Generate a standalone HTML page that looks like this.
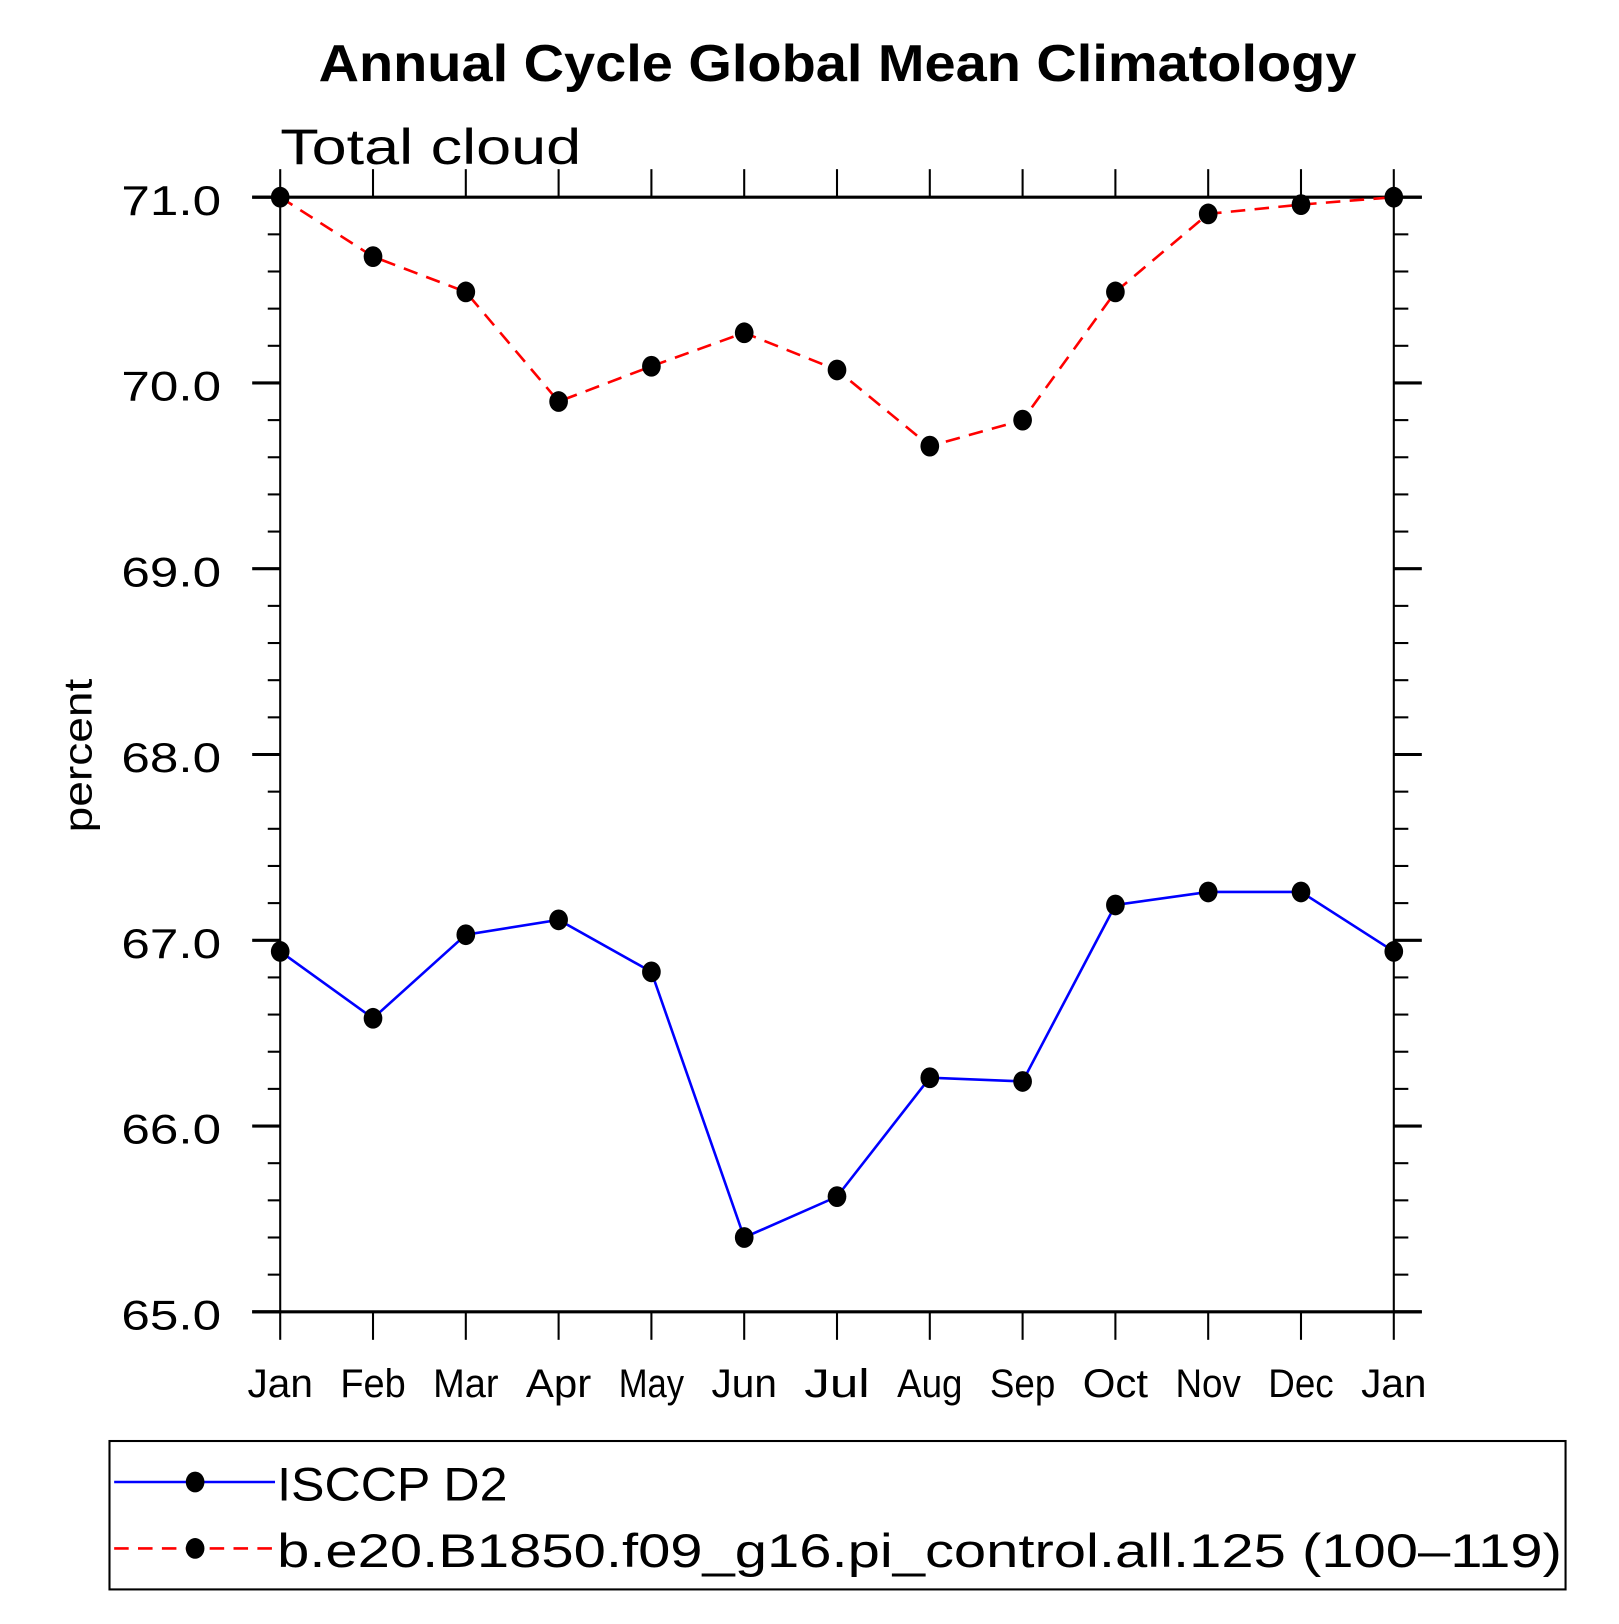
<!DOCTYPE html>
<html><head><meta charset="utf-8"><style>
html,body{margin:0;padding:0;background:#fff;}
svg text{font-family:"Liberation Sans",sans-serif;}
</style></head><body>
<svg id="chart" width="1619" height="1619" viewBox="0 0 1560 1560" xmlns="http://www.w3.org/2000/svg">
<text x="807" y="78" text-anchor="middle" font-size="50" font-weight="bold" textLength="1000" lengthAdjust="spacingAndGlyphs">Annual Cycle Global Mean Climatology</text>
<text x="270" y="158" font-size="48" textLength="290" lengthAdjust="spacingAndGlyphs">Total cloud</text>
<text transform="translate(88,728) rotate(-90)" text-anchor="middle" font-size="38" textLength="148" lengthAdjust="spacingAndGlyphs">percent</text>
<g id="axes"></g>
<g id="series"></g>
<g>
<rect x="105.5" y="1388.5" width="1403" height="143" fill="none" stroke="#000" stroke-width="2"/>
<g>
<line x1="110" y1="1428" x2="265" y2="1428" stroke="#0000ff" stroke-width="2.5"/>
<ellipse cx="188" cy="1428" rx="9" ry="10" fill="#000"/>
<text x="267" y="1446" font-size="46" textLength="222" lengthAdjust="spacingAndGlyphs">ISCCP D2</text>
</g>
<g>
<line x1="110" y1="1492" x2="265" y2="1492" stroke="#ff0000" stroke-width="2.5" stroke-dasharray="14,9"/>
<ellipse cx="188" cy="1492" rx="9" ry="10" fill="#000"/>
<text x="267" y="1510" font-size="46" textLength="1238" lengthAdjust="spacingAndGlyphs">b.e20.B1850.f09_g16.pi_control.all.125 (100–119)</text>
</g>
</g>
</svg>
<script>
const months = ["Jan","Feb","Mar","Apr","May","Jun","Jul","Aug","Sep","Oct","Nov","Dec","Jan"];
const isccpValues = [66.94,66.58,67.03,67.11,66.83,65.40,65.62,66.26,66.24,67.19,67.26,67.26,66.94];
const modelValues = [71.00,70.68,70.49,69.90,70.09,70.27,70.07,69.66,69.80,70.49,70.91,70.96,71.00];
const yTickLabels = ["65.0","66.0","67.0","68.0","69.0","70.0","71.0"];
const yMin = 65, yMax = 71;

const NS="http://www.w3.org/2000/svg";
const L=270,R=1343,T=190,B=1264;
const xs=i=>L+(R-L)*i/(months.length-1);
const ys=v=>B-(B-T)*(v-yMin)/(yMax-yMin);
function mk(tag,attrs,parent){const e=document.createElementNS(NS,tag);for(const k in attrs)e.setAttribute(k,attrs[k]);parent.appendChild(e);return e;}
const axes=document.getElementById('axes'), series=document.getElementById('series');
const frame=mk('rect',{x:L,y:T,width:R-L,height:B-T,fill:'none',stroke:'#000','stroke-width':2},axes);


for(const yy of [T,B]){const hl=mk('line',{x1:243,x2:1370,y1:yy,y2:yy,stroke:'#000','stroke-width':3},axes);

}
months.forEach((m,i)=>{
  const x=xs(i);
  const t1=mk('line',{x1:x,x2:x,y1:B,y2:B+27,stroke:'#000','stroke-width':2},axes);
  
  
  const t2=mk('line',{x1:x,x2:x,y1:T,y2:T-27,stroke:'#000','stroke-width':2},axes);
  
  
  const lb=mk('text',{x:x,y:1346,'text-anchor':'middle','font-size':38,textLength:m.length*21,lengthAdjust:'spacingAndGlyphs'},axes);
  lb.textContent=m;
  
  
});
for(let k=0;k<=30;k++){
  const v=yMin+k*0.2, y=ys(v);
  const major=k%5===0;
  const a=mk('line',{x1:major?243:258,x2:L,y1:y,y2:y,stroke:'#000','stroke-width':major?3:2},axes);
  
  
  const b=mk('line',{x1:R,x2:major?1370:1357,y1:y,y2:y,stroke:'#000','stroke-width':major?3:2},axes);
  
  
}
yTickLabels.forEach(s=>{
  const y=ys(parseFloat(s));
  const t=mk('text',{x:213,y:y+17,'text-anchor':'end','font-size':40,textLength:96,lengthAdjust:'spacingAndGlyphs'},axes);
  t.textContent=s;
  
  
});
function drawSeries(vals,color,dash,name){
  const pts=vals.map((v,i)=>xs(i)+','+ys(v)).join(' ');
  const pl=mk('polyline',{points:pts,fill:'none',stroke:color,'stroke-width':2.5,'stroke-dasharray':dash},series);
  
  
  vals.forEach((v,i)=>{
    const c=mk('ellipse',{cx:xs(i),cy:ys(v),rx:9,ry:10,fill:'#000'},series);
    
    
  });
}
drawSeries(isccpValues,'#0000ff','none','isccp');
drawSeries(modelValues,'#ff0000','14,9','model');
</script>
</body></html>
